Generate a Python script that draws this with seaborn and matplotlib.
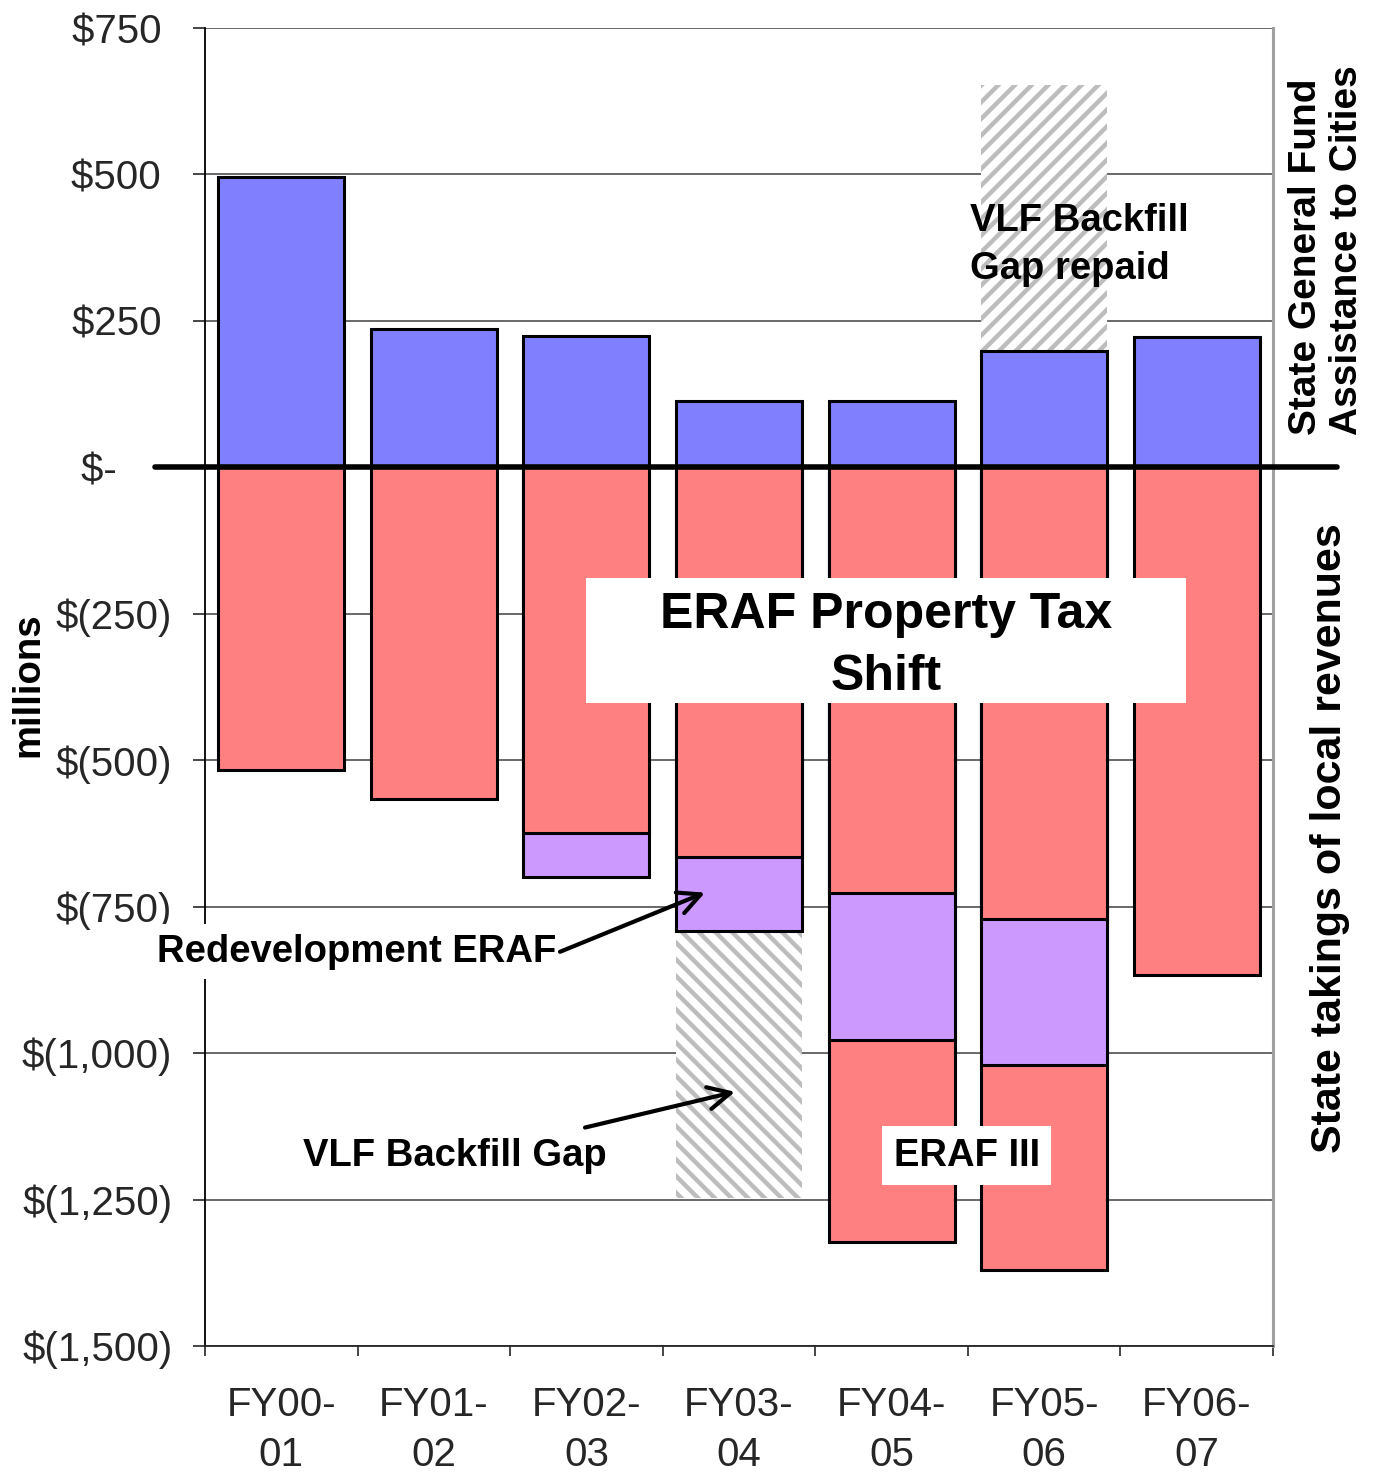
import numpy as np
import pandas as pd
import matplotlib
matplotlib.use("Agg")
import matplotlib.pyplot as plt
from matplotlib.patches import Rectangle
import seaborn as sns

# values in $ millions
years = ["FY00-\n01", "FY01-\n02", "FY02-\n03", "FY03-\n04", "FY04-\n05", "FY05-\n06", "FY06-\n07"]
state_assistance = [495, 236, 224, 113, 113, 199, 222]
vlf_gap_repaid = [0, 0, 0, 0, 0, 454, 0]
eraf_shift = [-516, -566, -625, -665, -726, -771, -866]
redevelopment_eraf = [0, 0, -75, -126, -251, -249, 0]
vlf_backfill_gap = [0, 0, 0, -457, 0, 0, 0]
eraf_iii = [0, 0, 0, 0, -346, -350, 0]

yticks = list(range(-1500, 751, 250))


def money(v):
    if v == 0:
        return "$-     "
    if v < 0:
        return f"$({-v:,})"
    return f"${v:,} "


sns.set_style("ticks")
plt.rcParams["font.family"] = ["Liberation Sans", "DejaVu Sans"]
plt.rcParams["hatch.linewidth"] = 3.2

df = pd.DataFrame({
    "year": years,
    "assist": state_assistance,
    "repaid": vlf_gap_repaid,
    "eraf": eraf_shift,
    "redev": redevelopment_eraf,
    "gap": vlf_backfill_gap,
    "eraf3": eraf_iii,
})
df["assist_top"] = df["assist"]
df["repaid_top"] = np.where(df["repaid"] != 0, df["assist"] + df["repaid"], np.nan)
df["eraf_bot"] = df["eraf"]
df["redev_bot"] = np.where(df["redev"] != 0, df["eraf"] + df["redev"], np.nan)
df["gap_bot"] = np.where(df["gap"] != 0, df["eraf"] + df["redev"] + df["gap"], np.nan)
df["eraf3_bot"] = np.where(df["eraf3"] != 0, df["eraf"] + df["redev"] + df["eraf3"], np.nan)

fig = plt.figure(figsize=(13.82, 14.74), dpi=100)
ax = fig.add_axes([0.1483, 0.0868, 0.7728, 0.8942])

W = 0.826
# deepest layers first, shallower ones overlap them
layers = [
    ("gap_bot", "white", "#bdbdbd", 0, "\\\\"),
    ("eraf3_bot", "#FF8080", "black", 2.2, None),
    ("redev_bot", "#CC99FF", "black", 2.2, None),
    ("eraf_bot", "#FF8080", "black", 2.2, None),
    ("repaid_top", "white", "#bdbdbd", 0, "//"),
    ("assist_top", "#8080FF", "black", 2.2, None),
]
for col, fc, ec, lw, hatch in layers:
    sns.barplot(data=df, x="year", y=col, order=years, color=fc, saturation=1,
                width=W, edgecolor=ec, linewidth=lw, hatch=hatch,
                errorbar=None, ax=ax)

ax.set_ylim(-1500, 750)
ax.set_xlim(-0.5, len(years) - 0.5)
ax.set_yticks(yticks)
ax.set_yticklabels([money(v) for v in yticks])
ax.set_xlabel("")
ax.set_ylabel("")
ax.yaxis.grid(True, color="#404040", linewidth=1.1)
ax.set_axisbelow(True)

ax.set_xticks(np.arange(-0.5, len(years), 1), minor=True)
ax.tick_params(axis="x", which="major", length=0, pad=29, labelsize=29)
ax.tick_params(axis="x", which="minor", length=7, width=1.2, direction="out")
ax.tick_params(axis="y", length=8.5, width=1.2, direction="out", pad=15, labelsize=29)
for lab in ax.get_xticklabels():
    lab.set_linespacing(1.4)

ax.spines["top"].set_visible(False)
ax.spines["left"].set_color("black")
ax.spines["left"].set_linewidth(1.3)
ax.spines["bottom"].set_linewidth(1.3)
ax.spines["right"].set_visible(True)
ax.spines["right"].set_color("#a0a0a0")
ax.spines["right"].set_linewidth(2.2)

# thick zero line running past the plot area
ax.axhline(0, xmin=-0.047, xmax=1.06, color="black", linewidth=4, clip_on=False, zorder=5)

bold = dict(fontsize=27.5, fontweight="bold", color="black")

ax.add_patch(Rectangle((1.997, -402), 3.933, 213.5, facecolor="white", edgecolor="none", zorder=6))
ax.text(3.963, -305, "ERAF Property Tax\nShift", ha="center", va="center",
        fontsize=36, fontweight="bold", color="black", linespacing=1.45, zorder=7)

ax.text(4.514, 380, "VLF Backfill\nGap repaid", ha="left", va="center", linespacing=1.44,
        zorder=7, **bold)

ax.text(0.496, -827, "Redevelopment ERAF", ha="center", va="center", zorder=7,
        bbox=dict(boxstyle="square,pad=0.25", facecolor="white", edgecolor="none"), **bold)
ax.text(1.139, -1175, "VLF Backfill Gap", ha="center", va="center", zorder=7, **bold)
ax.text(4.494, -1175, "ERAF III", ha="center", va="center", zorder=7,
        bbox=dict(boxstyle="square,pad=0.3", facecolor="white", edgecolor="none"), **bold)

arrow = dict(arrowstyle="->", color="black", lw=3, mutation_scale=40, shrinkA=0, shrinkB=0)
ax.annotate("", xy=(2.777, -726), xytext=(1.827, -827), arrowprops=arrow, zorder=8,
            annotation_clip=False)
ax.annotate("", xy=(2.974, -1066), xytext=(1.991, -1127), arrowprops=arrow, zorder=8,
            annotation_clip=False)

fig.text(0.9597, 0.7049, "State General Fund\nAssistance to Cities", rotation=90,
         ha="center", va="bottom", multialignment="left", linespacing=1.17,
         fontsize=28, fontweight="bold", color="black")
fig.text(0.9624, 0.4315, "State takings of local revenues", rotation=90,
         ha="center", va="center", fontsize=31, fontweight="bold", color="black")
fig.text(0.0203, 0.5353, "millions", rotation=90, ha="center", va="center", **bold)

fig.savefig("out.png", dpi=100)
